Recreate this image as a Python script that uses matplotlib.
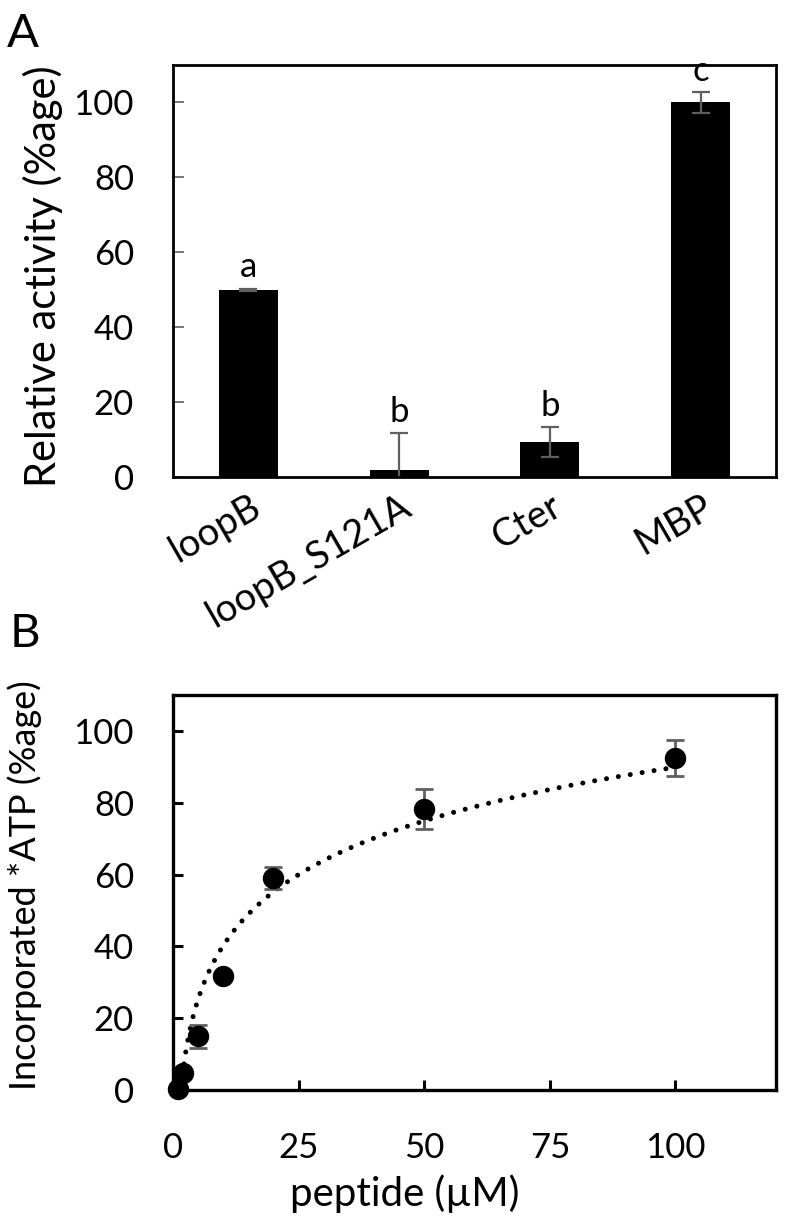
import numpy as np
import matplotlib
matplotlib.use('Agg')
import matplotlib.pyplot as plt

plt.rcParams['font.family'] = ['Lato', 'DejaVu Sans']

# Panel A: relative activity
categories = ['loopB', 'loopB_S121A', 'Cter', 'MBP']
activity = [50.0, 1.9, 9.3, 100.0]
activity_err = [0.3, 9.8, 4.0, 2.7]
letters = ['a', 'b', 'b', 'c']

# Panel B: incorporated ATP vs peptide
peptide = [1, 2, 5, 10, 20, 50, 100]
incorporated = [0.3, 4.8, 14.9, 31.8, 59.0, 78.3, 92.5]
incorporated_err = [0.5, 1.0, 3.2, 1.0, 3.0, 5.5, 5.0]

W, H = 812, 1220
fig = plt.figure(figsize=(W / 100, H / 100), dpi=100)
grey = '#5f5f5f'
fs = 25

# ---- panel A ----
axA = fig.add_axes([173 / W, 1 - 477 / H, 603 / W, 412 / H])
xpos = np.arange(len(categories))
axA.bar(xpos, activity, width=0.39, color='black')
axA.errorbar(xpos, activity, yerr=activity_err, fmt='none', ecolor=grey,
             elinewidth=1.6, capsize=6.5, capthick=1.6)
for i, (v, e, l) in enumerate(zip(activity, activity_err, letters)):
    axA.text(i, v + e + 1.5, l, ha='center', va='bottom', fontsize=fs)
axA.set_xlim(-0.5, 3.5)
axA.set_ylim(0, 110)
axA.set_yticks([0, 20, 40, 60, 80, 100])
axA.tick_params(axis='y', direction='in', length=8, width=1.2, color=grey,
                labelsize=fs, pad=28)
axA.set_xticks(xpos)
axA.set_xticklabels(categories, rotation=30, ha='right', va='top',
                    rotation_mode='anchor', fontsize=27.5)
axA.tick_params(axis='x', length=0, pad=8)
for sp in axA.spines.values():
    sp.set_linewidth(2.0)
fig.text(43 / W, 1 - 276 / H, 'Relative activity (%age)', rotation=90,
         ha='center', va='center', fontsize=30)
fig.text(7 / W, 1 - 47 / H, 'A', fontsize=34, va='baseline')

# ---- panel B ----
axB = fig.add_axes([173 / W, 1 - 1090 / H, 603 / W, 395 / H])
# logarithmic trendline fitted to the points
lx = np.log(np.array(peptide, dtype=float))
slope, intercept = np.polyfit(lx, incorporated, 1)
xf = np.linspace(min(peptide), max(peptide), 500)
axB.plot(xf, slope * np.log(xf) + intercept, color='black', lw=3.6,
         linestyle=(0, (0.01, 2.4)), dash_capstyle='round')
axB.errorbar(peptide, incorporated, yerr=incorporated_err, fmt='none',
             ecolor=grey, elinewidth=2.0, capsize=6.5, capthick=2.0)
axB.plot(peptide, incorporated, 'o', color='black', ms=14.4, clip_on=False,
         zorder=5)
axB.set_xlim(0, 120)
axB.set_ylim(0, 110)
axB.set_xticks([0, 25, 50, 75, 100])
axB.set_yticks([0, 20, 40, 60, 80, 100])
axB.tick_params(direction='in', length=7, width=2.2, color='black',
                labelsize=fs)
axB.tick_params(axis='y', pad=28)
axB.tick_params(axis='x', pad=30)
for sp in axB.spines.values():
    sp.set_linewidth(2.4)
fig.text(405 / W, 1 - 1206 / H, 'peptide (µM)', ha='center', va='baseline',
         fontsize=29)
fig.text(25 / W, 1 - 885 / H, 'Incorporated *ATP (%age)', rotation=90,
         ha='center', va='center', fontsize=26)
fig.text(10 / W, 1 - 647 / H, 'B', fontsize=34, va='baseline')

fig.savefig('out.png', dpi=100)
